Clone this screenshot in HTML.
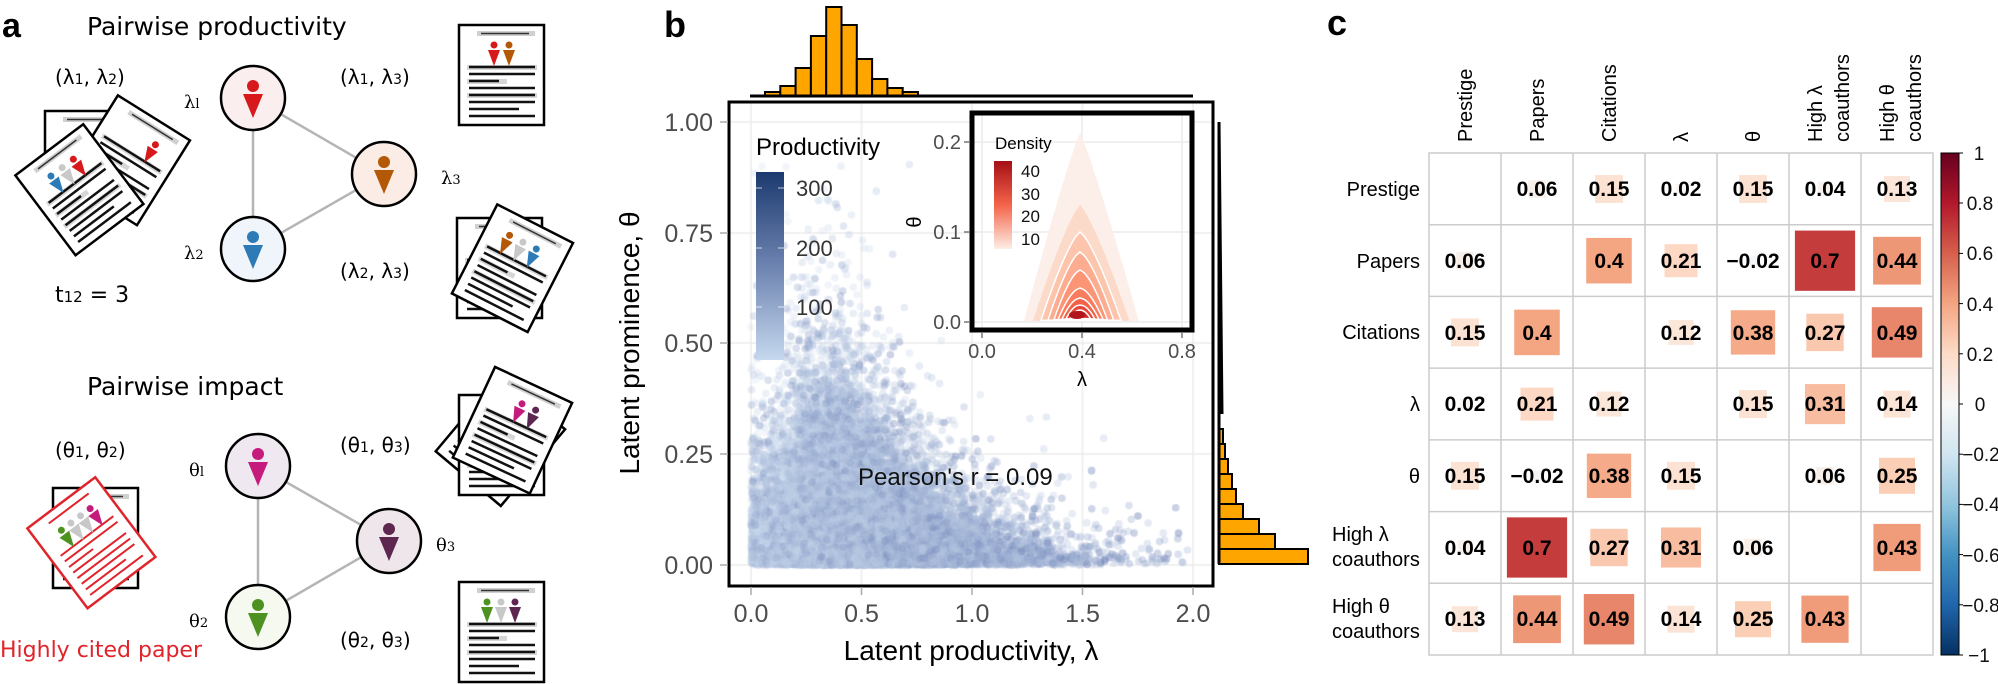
<!DOCTYPE html>
<html><head><meta charset="utf-8">
<style>
html,body{margin:0;padding:0;background:#fff;}
#wrap{position:relative;width:1998px;height:684px;overflow:hidden;}
canvas{position:absolute;left:729px;top:102px;}
svg{position:absolute;left:0;top:0;}
.dj{font-family:"DejaVu Sans","Liberation Sans",sans-serif;}
.ls{font-family:"Liberation Sans",sans-serif;}
</style></head><body><div id="wrap">
<canvas id="sc" width="484" height="484"></canvas>
<svg id="s" width="1998" height="684" viewBox="0 0 1998 684">
<defs>
<g id="paper">
<rect x="0" y="0" width="85" height="100" fill="#fff" stroke="#000" stroke-width="2.5"/>
<rect x="18" y="6" width="58" height="5" fill="#d0d0d0"/><line x1="22" y1="8.5" x2="70" y2="8.5" stroke="#333" stroke-width="1.5"/>
<g stroke-width="2.5">
<rect x="8" y="40" width="70" height="5" fill="#d6d6d6" stroke="none"/><line x1="10" y1="42" x2="76" y2="42" stroke="#111"/>
<line x1="10" y1="49" x2="76" y2="49" stroke="#111"/>
<rect x="8" y="54" width="40" height="5" fill="#d6d6d6" stroke="none"/><line x1="10" y1="56" x2="40" y2="56" stroke="#111"/>
<line x1="10" y1="63" x2="76" y2="63" stroke="#111"/>
<rect x="8" y="68" width="70" height="5" fill="#d6d6d6" stroke="none"/><line x1="10" y1="70" x2="76" y2="70" stroke="#111"/>
<line x1="10" y1="77" x2="76" y2="77" stroke="#111"/>
<line x1="10" y1="84" x2="60" y2="84" stroke="#111"/>
<line x1="10" y1="91" x2="76" y2="91" stroke="#111"/>
</g>
</g>
<g id="rpaper">
<rect x="0" y="0" width="85" height="100" fill="#fff" stroke="#e0242b" stroke-width="2.5"/>
<g stroke="#e0242b" stroke-width="2">
<line x1="20" y1="9" x2="70" y2="9"/><line x1="10" y1="42" x2="76" y2="42"/><line x1="10" y1="49" x2="76" y2="49"/>
<line x1="10" y1="56" x2="40" y2="56"/><line x1="10" y1="63" x2="76" y2="63"/><line x1="10" y1="70" x2="76" y2="70"/>
<line x1="10" y1="77" x2="76" y2="77"/><line x1="10" y1="84" x2="60" y2="84"/><line x1="10" y1="91" x2="76" y2="91"/>
</g>
</g>
<g id="pp"><circle cx="0" cy="-8" r="3.5"/><path d="M-6,-3 L6,-3 L0,13 Z"/></g>
<g id="bp"><circle cx="0" cy="-12" r="6"/><path d="M-10,-4 L10,-4 L0,20 Z"/></g>
</defs>

<!-- ============ PANEL A ============ -->
<g class="dj">
<text x="2" y="37" font-size="34" font-weight="bold" font-family="Liberation Sans,sans-serif">a</text>
<text x="87" y="35" font-size="25">Pairwise productivity</text>
<text x="55" y="84" font-size="20">(λ<tspan font-size="14">1</tspan>, λ<tspan font-size="14">2</tspan>)</text>
<text x="340" y="84" font-size="20">(λ<tspan font-size="14">1</tspan>, λ<tspan font-size="14">3</tspan>)</text>
<text x="340" y="278" font-size="20">(λ<tspan font-size="14">2</tspan>, λ<tspan font-size="14">3</tspan>)</text>
<text x="55" y="302" font-size="22">t<tspan font-size="15">12</tspan> = 3</text>
<text x="184" y="108" font-size="18" font-family="DejaVu Serif,serif">λ<tspan font-size="13">l</tspan></text>
<text x="184" y="259" font-size="18" font-family="DejaVu Serif,serif">λ<tspan font-size="13">2</tspan></text>
<text x="441" y="184" font-size="18" font-family="DejaVu Serif,serif">λ<tspan font-size="13">3</tspan></text>
<line x1="253" y1="98" x2="253" y2="249" stroke="#b5b5b5" stroke-width="2.5"/>
<line x1="253" y1="98" x2="384" y2="174" stroke="#b5b5b5" stroke-width="2.5"/>
<line x1="253" y1="249" x2="384" y2="174" stroke="#b5b5b5" stroke-width="2.5"/>
<circle cx="253" cy="98" r="32" fill="#fbeeee" stroke="#000" stroke-width="2.5"/>
<circle cx="384" cy="174" r="32" fill="#fbece6" stroke="#000" stroke-width="2.5"/>
<circle cx="253" cy="249" r="32" fill="#eff5fa" stroke="#000" stroke-width="2.5"/>
<use href="#bp" x="253" y="98" fill="#d7191c"/>
<use href="#bp" x="384" y="174" fill="#b35806"/>
<use href="#bp" x="253" y="249" fill="#2c7bb6"/>

<g transform="translate(45,111)"><use href="#paper"/><use href="#pp" x="55" y="30" fill="#2c7bb6"/><use href="#pp" x="40" y="30" fill="#c8c8c8"/></g>
<g transform="translate(127,160) rotate(32) translate(-42,-50)"><use href="#paper"/><use href="#pp" x="58" y="30" fill="#d7191c"/></g>
<g transform="translate(79,190) rotate(-37) translate(-42,-50)"><use href="#paper"/><use href="#pp" x="28" y="30" fill="#2c7bb6"/><use href="#pp" x="42" y="30" fill="#c8c8c8"/><use href="#pp" x="56" y="30" fill="#d7191c"/></g>

<g transform="translate(459,25)"><use href="#paper"/><use href="#pp" x="35" y="28" fill="#d7191c"/><use href="#pp" x="50" y="28" fill="#b35806"/></g>
<g transform="translate(457,218)"><use href="#paper"/></g>
<g transform="translate(512,268) rotate(27) translate(-42,-50)"><use href="#paper"/><use href="#pp" x="25" y="30" fill="#b35806"/><use href="#pp" x="40" y="30" fill="#c8c8c8"/><use href="#pp" x="55" y="30" fill="#2c7bb6"/></g>

<text x="87" y="395" font-size="25">Pairwise impact</text>
<text x="55" y="457" font-size="20">(θ<tspan font-size="14">1</tspan>, θ<tspan font-size="14">2</tspan>)</text>
<text x="340" y="452" font-size="20">(θ<tspan font-size="14">1</tspan>, θ<tspan font-size="14">3</tspan>)</text>
<text x="340" y="647" font-size="20">(θ<tspan font-size="14">2</tspan>, θ<tspan font-size="14">3</tspan>)</text>
<text x="189" y="476" font-size="18" font-family="DejaVu Serif,serif">θ<tspan font-size="13">l</tspan></text>
<text x="189" y="627" font-size="18" font-family="DejaVu Serif,serif">θ<tspan font-size="13">2</tspan></text>
<text x="436" y="551" font-size="18" font-family="DejaVu Serif,serif">θ<tspan font-size="13">3</tspan></text>
<line x1="258" y1="466" x2="258" y2="617" stroke="#b5b5b5" stroke-width="2.5"/>
<line x1="258" y1="466" x2="389" y2="541" stroke="#b5b5b5" stroke-width="2.5"/>
<line x1="258" y1="617" x2="389" y2="541" stroke="#b5b5b5" stroke-width="2.5"/>
<circle cx="258" cy="466" r="32" fill="#f0e8f0" stroke="#000" stroke-width="2.5"/>
<circle cx="389" cy="541" r="32" fill="#eee6ea" stroke="#000" stroke-width="2.5"/>
<circle cx="258" cy="617" r="32" fill="#f5f9f0" stroke="#000" stroke-width="2.5"/>
<use href="#bp" x="258" y="466" fill="#c51b7d"/>
<use href="#bp" x="389" y="541" fill="#5e2750"/>
<use href="#bp" x="258" y="617" fill="#4d9221"/>

<g transform="translate(53,488)"><use href="#paper"/></g>
<g transform="translate(91,543) rotate(-37) translate(-42,-50)"><use href="#rpaper"/><use href="#pp" x="26" y="30" fill="#4d9221"/><use href="#pp" x="38" y="30" fill="#c8c8c8"/><use href="#pp" x="50" y="30" fill="#c8c8c8"/><use href="#pp" x="62" y="30" fill="#c51b7d"/></g>
<text x="0" y="657" font-size="22" fill="#e0242b">Highly cited paper</text>

<g transform="translate(500,440) rotate(40) translate(-42,-50)"><use href="#paper"/></g>
<g transform="translate(459,395)"><use href="#paper"/></g>
<g transform="translate(512,430) rotate(25) translate(-42,-50)"><use href="#paper"/><use href="#pp" x="40" y="30" fill="#c51b7d"/><use href="#pp" x="55" y="30" fill="#5e2750"/></g>

<g transform="translate(459,582)"><use href="#paper"/><use href="#pp" x="28" y="28" fill="#4d9221"/><use href="#pp" x="42" y="28" fill="#c8c8c8"/><use href="#pp" x="56" y="28" fill="#5e2750"/></g>
</g>

<!-- ============ PANEL B ============ -->
<g class="ls">
<text x="664" y="37" font-size="36" font-weight="bold">b</text>
<g fill="#ffa500" stroke="#000" stroke-width="2">
<rect x="765" y="92" width="15.3" height="4"/>
<rect x="780.3" y="86" width="15.3" height="10"/>
<rect x="795.6" y="68" width="15.3" height="28"/>
<rect x="810.9" y="36" width="15.3" height="60"/>
<rect x="826.2" y="7" width="15.3" height="89"/>
<rect x="841.5" y="25" width="15.3" height="71"/>
<rect x="856.8" y="59" width="15.3" height="37"/>
<rect x="872.1" y="79" width="15.3" height="17"/>
<rect x="887.4" y="88" width="15.3" height="8"/>
<rect x="902.7" y="92" width="15.3" height="4"/>
</g>
<line x1="750" y1="96" x2="1193" y2="96" stroke="#000" stroke-width="3"/>
<g fill="#ffa500" stroke="#000" stroke-width="2">
<rect x="1219" y="549" width="89" height="15"/>
<rect x="1219" y="534" width="56" height="15"/>
<rect x="1219" y="519" width="40" height="15"/>
<rect x="1219" y="504" width="24" height="15"/>
<rect x="1219" y="489" width="17" height="15"/>
<rect x="1219" y="474" width="13" height="15"/>
<rect x="1219" y="459" width="9" height="15"/>
<rect x="1219" y="444" width="6" height="15"/>
<rect x="1219" y="429" width="4" height="15"/>
</g>
<path d="M1219,122 L1219,564 M1219,122 L1222,414" stroke="#000" stroke-width="3" fill="none"/>
<rect x="729" y="102" width="484" height="484" fill="none" stroke="#000" stroke-width="3"/>
<g stroke="#aaa" stroke-width="1.5">
<line x1="720" y1="122" x2="728" y2="122"/><line x1="720" y1="233" x2="728" y2="233"/><line x1="720" y1="343" x2="728" y2="343"/><line x1="720" y1="454" x2="728" y2="454"/><line x1="720" y1="565" x2="728" y2="565"/>
<line x1="751" y1="587" x2="751" y2="595"/><line x1="861.5" y1="587" x2="861.5" y2="595"/><line x1="972" y1="587" x2="972" y2="595"/><line x1="1082.5" y1="587" x2="1082.5" y2="595"/><line x1="1193" y1="587" x2="1193" y2="595"/>
</g>
<g font-size="25" fill="#4d4d4d" text-anchor="end">
<text x="713" y="131">1.00</text><text x="713" y="242">0.75</text><text x="713" y="352">0.50</text><text x="713" y="463">0.25</text><text x="713" y="574">0.00</text>
</g>
<g font-size="25" fill="#4d4d4d" text-anchor="middle">
<text x="751" y="622">0.0</text><text x="861.5" y="622">0.5</text><text x="972" y="622">1.0</text><text x="1082.5" y="622">1.5</text><text x="1193" y="622">2.0</text>
</g>
<text x="971" y="660" font-size="28" text-anchor="middle">Latent productivity, λ</text>
<text transform="translate(639,343) rotate(-90)" font-size="28" text-anchor="middle">Latent prominence, θ</text>
<text x="756" y="155" font-size="24">Productivity</text>
<defs>
<linearGradient id="gb" x1="0" y1="0" x2="0" y2="1"><stop offset="0" stop-color="#1c3a6f"/><stop offset="0.5" stop-color="#6d83b0"/><stop offset="1" stop-color="#c6d8ee"/></linearGradient>
<linearGradient id="gr" x1="0" y1="0" x2="0" y2="1"><stop offset="0" stop-color="#a50f15"/><stop offset="0.5" stop-color="#f4644a"/><stop offset="1" stop-color="#fdeee6"/></linearGradient>
</defs>
<rect x="756" y="172" width="28" height="188" fill="url(#gb)"/>
<g stroke="#fff" stroke-width="1" opacity="0.7"><line x1="756" y1="188" x2="762" y2="188"/><line x1="778" y1="188" x2="784" y2="188"/><line x1="756" y1="248" x2="762" y2="248"/><line x1="778" y1="248" x2="784" y2="248"/><line x1="756" y1="307" x2="762" y2="307"/><line x1="778" y1="307" x2="784" y2="307"/></g>
<g font-size="22" fill="#333"><text x="796" y="196">300</text><text x="796" y="256">200</text><text x="796" y="315">100</text></g>
<text x="858" y="485" font-size="24" fill="#111">Pearson's r = 0.09</text>
<rect x="972" y="113" width="220" height="217" fill="#fff"/>
<g stroke="#ececec" stroke-width="1.5"><line x1="972" y1="142" x2="1192" y2="142"/><line x1="972" y1="232" x2="1192" y2="232"/><line x1="972" y1="322" x2="1192" y2="322"/><line x1="982" y1="113" x2="982" y2="330"/><line x1="1082" y1="113" x2="1082" y2="330"/><line x1="1182" y1="113" x2="1182" y2="330"/></g>
<g id="dens"></g>
<rect x="972" y="113" width="220" height="217" fill="none" stroke="#000" stroke-width="5"/>
<g stroke="#777" stroke-width="1.5"><line x1="964" y1="142" x2="970" y2="142"/><line x1="964" y1="232" x2="970" y2="232"/><line x1="964" y1="322" x2="970" y2="322"/><line x1="982" y1="332" x2="982" y2="338"/><line x1="1082" y1="332" x2="1082" y2="338"/><line x1="1182" y1="332" x2="1182" y2="338"/></g>
<g font-size="20" fill="#4d4d4d" text-anchor="end"><text x="961" y="149">0.2</text><text x="961" y="239">0.1</text><text x="961" y="329">0.0</text></g>
<g font-size="20" fill="#4d4d4d" text-anchor="middle"><text x="982" y="358">0.0</text><text x="1082" y="358">0.4</text><text x="1182" y="358">0.8</text></g>
<text x="1082" y="386" font-size="20" text-anchor="middle">λ</text>
<text transform="translate(921,222) rotate(-90)" font-size="20" text-anchor="middle">θ</text>
<text x="995" y="149" font-size="17">Density</text>
<rect x="994" y="161" width="18" height="88" fill="url(#gr)"/>
<g font-size="17" fill="#111"><text x="1021" y="177">40</text><text x="1021" y="200">30</text><text x="1021" y="222">20</text><text x="1021" y="245">10</text></g>
</g>

<!-- ============ PANEL C ============ -->
<g class="ls">
<text x="1327" y="35" font-size="36" font-weight="bold">c</text>
<g id="sq"></g>
<g stroke="#cccccc" stroke-width="1.5" fill="none">
<rect x="1429" y="153" width="504" height="502"/>
<line x1="1501" y1="153" x2="1501" y2="655"/><line x1="1573" y1="153" x2="1573" y2="655"/><line x1="1645" y1="153" x2="1645" y2="655"/><line x1="1717" y1="153" x2="1717" y2="655"/><line x1="1789" y1="153" x2="1789" y2="655"/><line x1="1861" y1="153" x2="1861" y2="655"/>
<line x1="1429" y1="224.7" x2="1933" y2="224.7"/><line x1="1429" y1="296.4" x2="1933" y2="296.4"/><line x1="1429" y1="368.1" x2="1933" y2="368.1"/><line x1="1429" y1="439.9" x2="1933" y2="439.9"/><line x1="1429" y1="511.6" x2="1933" y2="511.6"/><line x1="1429" y1="583.3" x2="1933" y2="583.3"/>
</g>
<g font-size="20">
<text transform="translate(1472,142) rotate(-90)">Prestige</text>
<text transform="translate(1544,142) rotate(-90)">Papers</text>
<text transform="translate(1616,142) rotate(-90)">Citations</text>
<text transform="translate(1688,142) rotate(-90)">λ</text>
<text transform="translate(1760,142) rotate(-90)">θ</text>
<text transform="translate(1822,142) rotate(-90)">High λ</text>
<text transform="translate(1849,142) rotate(-90)">coauthors</text>
<text transform="translate(1894,142) rotate(-90)">High θ</text>
<text transform="translate(1921,142) rotate(-90)">coauthors</text>
</g>
<g font-size="20" text-anchor="end">
<text x="1420" y="196">Prestige</text>
<text x="1420" y="268">Papers</text>
<text x="1420" y="339">Citations</text>
<text x="1420" y="411">λ</text>
<text x="1420" y="483">θ</text>
</g>
<g font-size="20">
<text x="1332" y="541">High λ</text><text x="1332" y="566">coauthors</text>
<text x="1332" y="613">High θ</text><text x="1332" y="638">coauthors</text>
</g>
<g font-size="21" font-weight="bold" text-anchor="middle">
<text x="1537" y="196">0.06</text><text x="1609" y="196">0.15</text><text x="1681" y="196">0.02</text><text x="1753" y="196">0.15</text><text x="1825" y="196">0.04</text><text x="1897" y="196">0.13</text>
<text x="1465" y="268">0.06</text><text x="1609" y="268">0.4</text><text x="1681" y="268">0.21</text><text x="1753" y="268">−0.02</text><text x="1825" y="268">0.7</text><text x="1897" y="268">0.44</text>
<text x="1465" y="340">0.15</text><text x="1537" y="340">0.4</text><text x="1681" y="340">0.12</text><text x="1753" y="340">0.38</text><text x="1825" y="340">0.27</text><text x="1897" y="340">0.49</text>
<text x="1465" y="411">0.02</text><text x="1537" y="411">0.21</text><text x="1609" y="411">0.12</text><text x="1753" y="411">0.15</text><text x="1825" y="411">0.31</text><text x="1897" y="411">0.14</text>
<text x="1465" y="483">0.15</text><text x="1537" y="483">−0.02</text><text x="1609" y="483">0.38</text><text x="1681" y="483">0.15</text><text x="1825" y="483">0.06</text><text x="1897" y="483">0.25</text>
<text x="1465" y="555">0.04</text><text x="1537" y="555">0.7</text><text x="1609" y="555">0.27</text><text x="1681" y="555">0.31</text><text x="1753" y="555">0.06</text><text x="1897" y="555">0.43</text>
<text x="1465" y="626">0.13</text><text x="1537" y="626">0.44</text><text x="1609" y="626">0.49</text><text x="1681" y="626">0.14</text><text x="1753" y="626">0.25</text><text x="1825" y="626">0.43</text>
</g>
<defs><linearGradient id="rdbu" x1="0" y1="0" x2="0" y2="1">
<stop offset="0" stop-color="#67001f"/><stop offset="0.1" stop-color="#b2182b"/><stop offset="0.2" stop-color="#d6604d"/><stop offset="0.3" stop-color="#f4a582"/><stop offset="0.4" stop-color="#fddbc7"/><stop offset="0.5" stop-color="#f7f7f7"/><stop offset="0.6" stop-color="#d1e5f0"/><stop offset="0.7" stop-color="#92c5de"/><stop offset="0.8" stop-color="#4393c3"/><stop offset="0.9" stop-color="#2166ac"/><stop offset="1" stop-color="#053061"/>
</linearGradient></defs>
<rect x="1941" y="153" width="18" height="502" fill="url(#rdbu)" stroke="#000" stroke-width="1"/>
<g stroke="#000" stroke-width="1">
<line x1="1959" y1="153" x2="1963" y2="153"/><line x1="1959" y1="203" x2="1963" y2="203"/><line x1="1959" y1="253.4" x2="1963" y2="253.4"/><line x1="1959" y1="303.6" x2="1963" y2="303.6"/><line x1="1959" y1="353.8" x2="1963" y2="353.8"/><line x1="1959" y1="404" x2="1963" y2="404"/><line x1="1959" y1="454.2" x2="1963" y2="454.2"/><line x1="1959" y1="504.4" x2="1963" y2="504.4"/><line x1="1959" y1="554.6" x2="1963" y2="554.6"/><line x1="1959" y1="604.8" x2="1963" y2="604.8"/><line x1="1959" y1="655" x2="1963" y2="655"/>
</g>
<g font-size="19" text-anchor="middle" fill="#111">
<text x="1979" y="160">1</text><text x="1980" y="210">0.8</text><text x="1980" y="260">0.6</text><text x="1980" y="311">0.4</text><text x="1980" y="361">0.2</text><text x="1980" y="411">0</text><text x="1981" y="461">−0.2</text><text x="1981" y="511">−0.4</text><text x="1981" y="562">−0.6</text><text x="1981" y="612">−0.8</text><text x="1979" y="662">−1</text>
</g>
</g>
</svg>
</div>
<script>
(function(){
var NS="http://www.w3.org/2000/svg";
var c=document.getElementById('sc').getContext('2d');
c.strokeStyle='#ebebeb';c.lineWidth=1.5;
[22,132.5,243,353.5,464].forEach(function(x){c.beginPath();c.moveTo(x,0);c.lineTo(x,484);c.stroke();});
[20,131,241,352,463].forEach(function(y){c.beginPath();c.moveTo(0,y);c.lineTo(484,y);c.stroke();});
var a=987654321;
function r(){a|=0;a=a+0x6D2B79F5|0;var t=Math.imul(a^a>>>15,1|a);t=t+Math.imul(t^t>>>7,61|t)^t;return ((t^t>>>14)>>>0)/4294967296;}
function n(){var u=r()||1e-9,v=r();return Math.sqrt(-2*Math.log(u))*Math.cos(2*Math.PI*v);}
for(var i=0;i<30000;i++){
 var x;
 if(r()<0.1){x=r()*0.3;}else{x=Math.exp(n()*0.45+Math.log(0.47));}
 if(x>1.98)continue;
 var sc=0.14*Math.pow(Math.min(1,0.42/Math.max(x,0.05)),0.8);
 var y=-Math.log(r()||1e-9)*sc*0.8;
 if(y>0.95)continue;
 var t=Math.min(1,Math.max(0,Math.pow(r(),2.5)*0.7+x/5));
 var R=Math.round(202-100*t),G=Math.round(218-96*t),B=Math.round(238-62*t);
 c.fillStyle='rgba('+R+','+G+','+B+','+(0.22+0.2*t)+')';
 c.beginPath();c.arc(22+x*221,463-y*443,3.8,0,6.2832);c.fill();
}
var d=document.getElementById('dens');
var lv=[[133,56,'#fcefe9',0.9],[205,47,'#fcdac9',0.8],[232,39,'#fcc4ab',0.75],[252,32,'#fcac90',0.7],[270,26,'#fb9575',0.65],[288,22,'#f87c5e',0.6],[298,18,'#f26249',0.55],[305,14,'#e64538',0.5],[310,10,'#d42b2a',0.5]];
lv.forEach(function(L,k){
 var top=L[0],w=L[1],ex=L[3],by=321-k*0.3,pts=[];
 for(var j=0;j<=20;j++){var yy=top+(by-top)*j/20;var hw=w*Math.pow(j/20,ex);pts.push([1080-hw,yy]);}
 var p='M'+pts.map(function(q){return q[0].toFixed(1)+','+q[1].toFixed(1);}).join(' L');
 for(var j=20;j>=0;j--){var yy=top+(by-top)*j/20;var hw=w*Math.pow(j/20,ex)*1.05;p+=' L'+(1080+hw).toFixed(1)+','+yy.toFixed(1);}
 p+='Z';
 var e=document.createElementNS(NS,'path');e.setAttribute('d',p);e.setAttribute('fill',L[2]);
 if(k>=2){e.setAttribute('stroke','#fff');e.setAttribute('stroke-width','1.5');}
 d.appendChild(e);
});
var el=document.createElementNS(NS,'ellipse');el.setAttribute('cx',1077);el.setAttribute('cy',315);el.setAttribute('rx',8);el.setAttribute('ry',4);el.setAttribute('fill','#b2161c');d.appendChild(el);
var M=[[0,.06,.15,.02,.15,.04,.13],[.06,0,.4,.21,-.02,.7,.44],[.15,.4,0,.12,.38,.27,.49],[.02,.21,.12,0,.15,.31,.14],[.15,-.02,.38,.15,0,.06,.25],[.04,.7,.27,.31,.06,0,.43],[.13,.44,.49,.14,.25,.43,0]];
var st=[[-1,[5,48,97]],[-.8,[33,102,172]],[-.6,[67,147,195]],[-.4,[146,197,222]],[-.2,[209,229,240]],[0,[247,247,247]],[.2,[253,219,199]],[.4,[244,165,130]],[.6,[214,96,77]],[.8,[178,24,43]],[1,[103,0,31]]];
function col(v){for(var i=0;i<st.length-1;i++){if(v<=st[i+1][0]){var f=(v-st[i][0])/0.2,a=st[i][1],b=st[i+1][1];return 'rgb('+[0,1,2].map(function(k){return Math.round(a[k]+(b[k]-a[k])*f);}).join(',')+')';}}return 'rgb(103,0,31)';}
var g=document.getElementById('sq');
for(var i=0;i<7;i++)for(var j=0;j<7;j++){if(i==j)continue;var v=M[i][j];var sz=72*Math.sqrt(Math.abs(v));
 var cx=1465+72*j,cy=189+71.7*i;var q=document.createElementNS(NS,'rect');
 q.setAttribute('x',cx-sz/2);q.setAttribute('y',cy-sz/2);q.setAttribute('width',sz);q.setAttribute('height',sz);q.setAttribute('fill',col(v));g.appendChild(q);}
})();
</script>
</body></html>
